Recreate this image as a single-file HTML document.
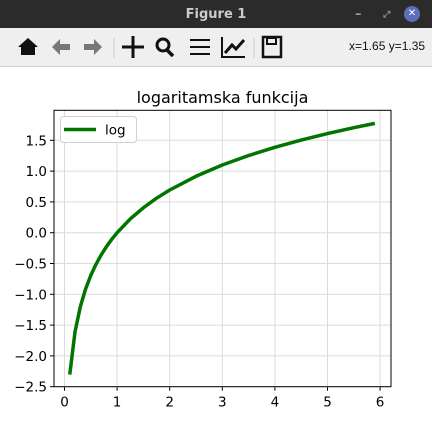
<!DOCTYPE html>
<html><head><meta charset="utf-8"><style>
body{margin:0;width:432px;height:424px;overflow:hidden;background:#fff;font-family:"DejaVu Sans","Liberation Sans",sans-serif}
#titlebar{position:absolute;left:0;top:0;width:432px;height:28px;background:#2b2b2b;color:#ccc;font-weight:bold;font-size:13px;text-align:center;line-height:30px}
#toolbar{position:absolute;left:0;top:28px;width:432px;height:38px;background:#efefef;border-bottom:1px solid #cfcfcf}
</style></head><body>
<div id="titlebar">Figure 1
<span style="position:absolute;left:355px;top:0;color:#999">–</span>
<span style="position:absolute;left:383px;top:0;color:#999;font-size:9px">⤢</span>
<span style="position:absolute;left:404px;top:6px;width:16px;height:16px;border-radius:8px;background:#5a6fb8;color:#fff;font-size:10px;line-height:16px">✕</span>
</div>
<div id="toolbar">
<svg width="432" height="38" style="position:absolute;left:0;top:0">
<g><path d="M18 19 L28 10 L38 19 L35 19 L35 27 L21 27 L21 19Z" fill="#111"/></g>
<g><path d="M52 19 L60 11 L60 16 L70 16 L70 22 L60 22 L60 27Z" fill="#777"/></g>
<g><path d="M102 19 L94 11 L94 16 L84 16 L84 22 L94 22 L94 27Z" fill="#777"/></g>
<line x1="114" y1="10" x2="114" y2="30" stroke="#ccc"/>
<g stroke="#111" stroke-width="3"><line x1="122" y1="19" x2="144" y2="19"/><line x1="133" y1="8" x2="133" y2="30"/></g>
<g><circle cx="163" cy="17" r="6" stroke="#111" stroke-width="3" fill="none"/><line x1="167" y1="22" x2="173" y2="28" stroke="#111" stroke-width="3.5"/></g>
<g stroke="#111" stroke-width="2"><line x1="190" y1="12" x2="210" y2="12"/><line x1="190" y1="19" x2="210" y2="19"/><line x1="190" y1="26" x2="210" y2="26"/></g>
<g fill="none" stroke="#111" stroke-width="2"><path d="M222 9 L222 29 L245 29"/><path d="M225 25 L232 17 L236 21 L244 12" stroke-width="3"/></g>
<line x1="254" y1="10" x2="254" y2="30" stroke="#ccc"/>
<g><rect x="263" y="9" width="18" height="20" fill="none" stroke="#111" stroke-width="2.5"/><rect x="267" y="10" width="9" height="6" fill="none" stroke="#111" stroke-width="2"/></g>
</svg>
<span style="position:absolute;left:349px;top:11px;font-size:12px;color:#111;font-family:'Liberation Sans',sans-serif">x=1.65 y=1.35</span>
</div>
<svg id="chart" width="432" height="358" style="position:absolute;left:0;top:66px"></svg>
<script>
const xValues=[0.1,0.2,0.3,0.4,0.5,0.6,0.7,0.8,0.9,1.0,1.25,1.5,1.75,2.0,2.5,3.0,3.5,4.0,4.5,5.0,5.5,5.9];
const yValues=[-2.303,-1.609,-1.204,-0.916,-0.693,-0.511,-0.357,-0.223,-0.105,0,0.223,0.405,0.560,0.693,0.916,1.099,1.253,1.386,1.504,1.609,1.705,1.775];
const xTicks=[0,1,2,3,4,5,6];
const yTicks=[-2.5,-2.0,-1.5,-1.0,-0.5,0.0,0.5,1.0,1.5];
const yTickLabels=["−2.5","−2.0","−1.5","−1.0","−0.5","0.0","0.5","1.0","1.5"];
const svg=document.getElementById('chart');
const NS='http://www.w3.org/2000/svg';
const L=54,R=391,T=44.3,B=320.7;
const sx=v=>64.5+v*52.6;
const sy=v=>B-(v+2.5)*61.6;
function mk(tag,attrs,text){const e=document.createElementNS(NS,tag);for(const k in attrs)e.setAttribute(k,attrs[k]);if(text!==undefined)e.textContent=text;svg.appendChild(e);return e;}
xTicks.forEach(t=>{
 const g=mk('line',{x1:sx(t),x2:sx(t),y1:T,y2:B,stroke:'#dcdcdc','stroke-width':1});
 
 
 const tk=mk('line',{x1:sx(t),x2:sx(t),y1:B,y2:B+4,stroke:'#000'});
 
 
 const lb=mk('text',{x:sx(t),y:B+20,'text-anchor':'middle','font-size':13.5,fill:'#000'},String(t));
 
 
});
yTicks.forEach((t,i)=>{
 const g=mk('line',{x1:L,x2:R,y1:sy(t),y2:sy(t),stroke:'#dcdcdc','stroke-width':1});
 
 
 const tk=mk('line',{x1:L-4,x2:L,y1:sy(t),y2:sy(t),stroke:'#000'});
 
 
 const lb=mk('text',{x:L-7,y:sy(t)+5,'text-anchor':'end','font-size':13.5,fill:'#000'},yTickLabels[i]);
 
 
});
const pts=xValues.map((x,i)=>sx(x).toFixed(2)+','+sy(yValues[i]).toFixed(2)).join(' ');
const line=mk('polyline',{points:pts,fill:'none',stroke:'#007500','stroke-width':3.5,'stroke-linejoin':'round'});


const frame=mk('rect',{x:L,y:T,width:R-L,height:B-T,fill:'none',stroke:'#000','stroke-width':1});


const title=mk('text',{x:(L+R)/2,y:37,'text-anchor':'middle','font-size':16,fill:'#000'},'logaritamska funkcija');


const lg=mk('rect',{x:60.5,y:50.5,width:76,height:26,rx:3,fill:'#fff',stroke:'#d0d0d0'});


const ll=mk('line',{x1:64,x2:96,y1:63.5,y2:63.5,stroke:'#007500','stroke-width':3.5});


const lt=mk('text',{x:105,y:68.5,'font-size':13.5,fill:'#000'},'log');


</script>
</body></html>
